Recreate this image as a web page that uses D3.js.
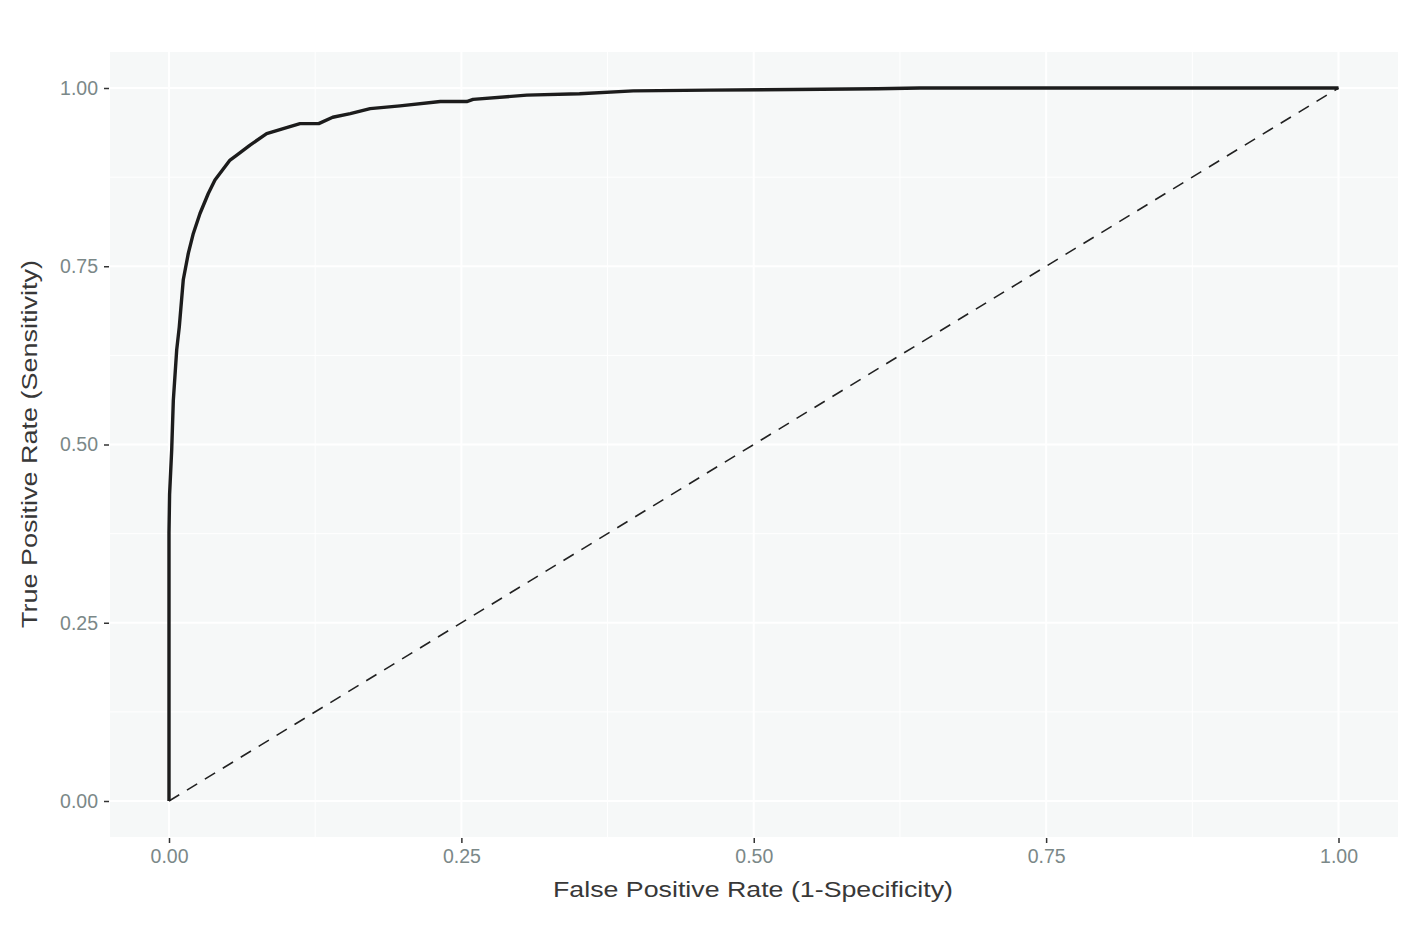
<!DOCTYPE html>
<meta charset="utf-8">
<style>
body { margin: 0; background: #fff; }
.tick text { font: 19.5px "Liberation Sans", Arial, sans-serif; fill: #7b8888; }
.title { font: 22px "Liberation Sans", Arial, sans-serif; fill: #383838; }
</style>
<svg width="1410" height="931"></svg>
<script src="https://d3js.org/d3.v7.min.js"></script>
<script>
// ROC curve
var fpr = [0, 0, 0.0005, 0.0023, 0.0037, 0.0066, 0.0088, 0.0122, 0.0165, 0.0208, 0.0265,
  0.0336, 0.0393, 0.0522, 0.058, 0.0693, 0.0835, 0.0977, 0.112, 0.128, 0.140, 0.155,
  0.172, 0.1975, 0.232, 0.2546, 0.260, 0.306, 0.351, 0.397, 0.4626, 0.534, 0.606, 0.642, 1];
var tpr = [0, 0.376, 0.43, 0.492, 0.562, 0.633, 0.665, 0.731, 0.768, 0.796, 0.824,
  0.852, 0.871, 0.899, 0.906, 0.920, 0.936, 0.943, 0.950, 0.950, 0.959, 0.964,
  0.971, 0.975, 0.981, 0.981, 0.984, 0.990, 0.992, 0.996, 0.997, 0.998, 0.999, 1, 1];
var diagonal = [0, 1];
var tickValues = [0, 0.25, 0.5, 0.75, 1];
var minorValues = [0.125, 0.375, 0.625, 0.875];

var svg = d3.select("svg");
var panel = {left: 110, right: 1398, top: 52, bottom: 837};

var x = d3.scaleLinear().domain([0, 1]).range([169, 1338.5]);
var y = d3.scaleLinear().domain([0, 1]).range([801, 88]);

svg.append("rect")
    .attr("x", panel.left).attr("y", panel.top)
    .attr("width", panel.right - panel.left)
    .attr("height", panel.bottom - panel.top)
    .attr("fill", "#f6f8f8");

var grid = svg.append("g");
// minor grid
grid.selectAll(".mx").data(minorValues).enter().append("line")
    .attr("x1", d => x(d)).attr("x2", d => x(d))
    .attr("y1", panel.top).attr("y2", panel.bottom)
    .attr("stroke", "#fff").attr("stroke-width", 1);
grid.selectAll(".my").data(minorValues).enter().append("line")
    .attr("y1", d => y(d)).attr("y2", d => y(d))
    .attr("x1", panel.left).attr("x2", panel.right)
    .attr("stroke", "#fff").attr("stroke-width", 1);
// major grid
grid.selectAll(".Mx").data(tickValues).enter().append("line")
    .attr("x1", d => x(d)).attr("x2", d => x(d))
    .attr("y1", panel.top).attr("y2", panel.bottom)
    .attr("stroke", "#fff").attr("stroke-width", 2);
grid.selectAll(".My").data(tickValues).enter().append("line")
    .attr("y1", d => y(d)).attr("y2", d => y(d))
    .attr("x1", panel.left).attr("x2", panel.right)
    .attr("stroke", "#fff").attr("stroke-width", 2);

var xAxis = svg.append("g")
    .attr("transform", "translate(0," + (panel.bottom + 1) + ")")
    .call(d3.axisBottom(x).tickValues(tickValues).tickFormat(d3.format(".2f"))
      .tickSize(5).tickPadding(6));
var yAxis = svg.append("g")
    .attr("transform", "translate(" + (panel.left - 1) + ",0)")
    .call(d3.axisLeft(y).tickValues(tickValues).tickFormat(d3.format(".2f"))
      .tickSize(5).tickPadding(6));
[xAxis, yAxis].forEach(function(a) {
  a.select(".domain").remove();
  a.selectAll(".tick line").attr("stroke", "#333").attr("stroke-width", 1.5);
});

svg.append("line")
    .attr("x1", x(diagonal[0])).attr("y1", y(diagonal[0]))
    .attr("x2", x(diagonal[1])).attr("y2", y(diagonal[1]))
    .attr("stroke", "#222").attr("stroke-width", 1.6)
    .attr("stroke-dasharray", "12,9");

var line = d3.line().x(d => x(d[0])).y(d => y(d[1]));
svg.append("path")
    .datum(d3.zip(fpr, tpr))
    .attr("d", line)
    .attr("fill", "none")
    .attr("stroke", "#1c1c1c")
    .attr("stroke-width", 3.4)
    .attr("stroke-linejoin", "round");

svg.append("text").attr("class", "title")
    .attr("x", 753).attr("y", 897)
    .attr("text-anchor", "middle")
    .attr("textLength", 400).attr("lengthAdjust", "spacingAndGlyphs")
    .text("False Positive Rate (1-Specificity)");
svg.append("text").attr("class", "title")
    .attr("transform", "translate(37,444) rotate(-90)")
    .attr("text-anchor", "middle")
    .attr("textLength", 368).attr("lengthAdjust", "spacingAndGlyphs")
    .text("True Positive Rate (Sensitivity)");
</script>
